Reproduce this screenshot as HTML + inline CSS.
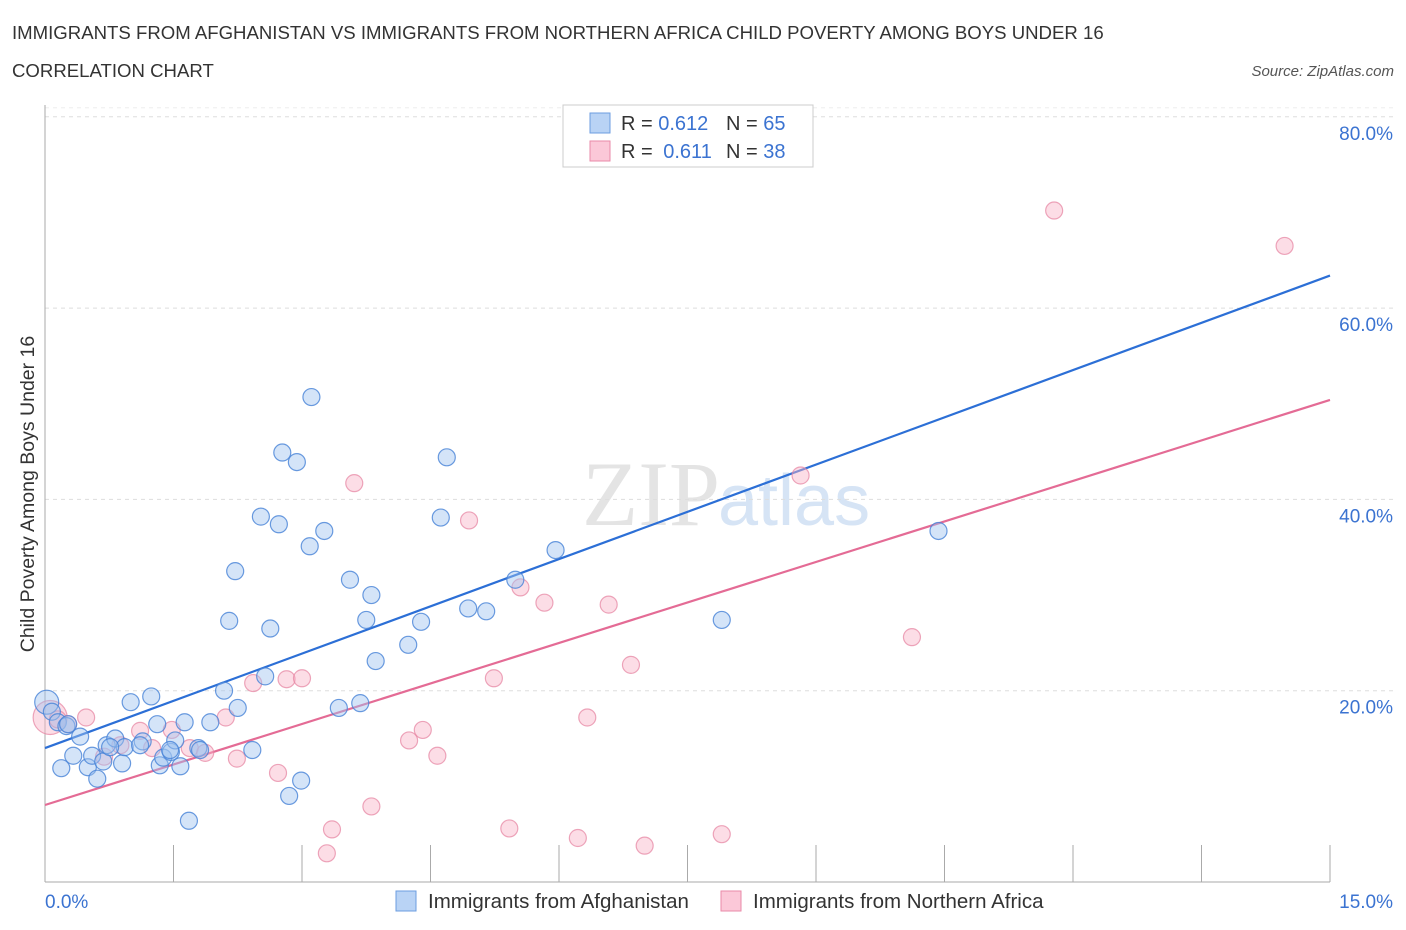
<!DOCTYPE html>
<html><head><meta charset="utf-8"><style>
body{margin:0;background:#fff;font-family:"Liberation Sans",sans-serif;}
</style></head><body>
<svg id="chart" width="1406" height="930" xmlns="http://www.w3.org/2000/svg" style="display:block">
<text x="12" y="39" font-size="18.6" fill="#333">IMMIGRANTS FROM AFGHANISTAN VS IMMIGRANTS FROM NORTHERN AFRICA CHILD POVERTY AMONG BOYS UNDER 16</text>
<text x="12" y="77" font-size="18.6" fill="#333">CORRELATION CHART</text>
<text x="1394" y="76" font-size="15" fill="#555" text-anchor="end" font-style="italic">Source: ZipAtlas.com</text>
<text x="720" y="525" font-size="92" fill="#e4e4e4" text-anchor="end" font-family="Liberation Serif">ZIP</text>
<text x="718" y="525" font-size="72" fill="#d6e4f5">atlas</text>
<g id="grid"></g>
<g id="trend"></g>
<g id="points"></g>
<text transform="translate(34,494) rotate(-90)" font-size="19.5" fill="#333" text-anchor="middle">Child Poverty Among Boys Under 16</text>
<text x="45" y="908" font-size="19" fill="#3b73d1">0.0%</text>
<text x="1393" y="908" font-size="19" fill="#3b73d1" text-anchor="end">15.0%</text>
<g>
<rect x="563" y="105" width="250" height="62" fill="#fff" stroke="#ccc"/>
<rect x="590" y="113" width="20" height="20" fill="#b9d3f5" stroke="#6c9ee0"/>
<rect x="590" y="141" width="20" height="20" fill="#fbc8d8" stroke="#e98aa8"/>
<text x="621" y="130" font-size="20" fill="#333">R = <tspan fill="#3b73d1">0.612</tspan><tspan x="726">N = </tspan><tspan fill="#3b73d1">65</tspan></text>
<text x="621" y="158" font-size="20" fill="#333">R = <tspan fill="#3b73d1" dx="5">0.611</tspan><tspan x="726">N = </tspan><tspan fill="#3b73d1">38</tspan></text>
</g>
<g>
<rect x="396" y="891" width="20" height="20" fill="#b9d3f5" stroke="#6c9ee0"/>
<text x="428" y="908" font-size="20.5" fill="#333">Immigrants from Afghanistan</text>
<rect x="721" y="891" width="20" height="20" fill="#fbc8d8" stroke="#e98aa8"/>
<text x="753" y="908" font-size="20.5" fill="#333">Immigrants from Northern Africa</text>
</g>
</svg>
<script>
const yTicks=[20,40,60,80];
const yTickLabels=["20.0%","40.0%","60.0%","80.0%"];
const xTicks=[0,1.5,3,4.5,6,7.5,9,10.5,12,13.5,15];
const blueX=[0.02,0.08,0.15,0.25,0.41,0.19,0.33,0.5,0.61,0.55,0.68,0.72,0.82,0.9,0.93,1.0,1.14,1.24,1.31,1.34,1.38,1.47,1.52,1.58,1.63,1.68,1.79,1.93,2.09,2.25,2.15,2.22,2.42,2.52,2.57,2.63,2.73,2.77,2.85,2.94,2.99,3.09,3.11,3.26,3.43,3.56,3.68,3.75,3.81,3.86,4.24,4.39,4.62,4.69,4.94,5.15,5.49,5.96,7.9,10.43,1.11,0.27,0.76,1.81,1.46];
const blueY=[18.8,17.8,16.7,16.3,15.2,11.9,13.2,12.0,10.8,13.2,12.6,14.3,15.0,12.4,14.1,18.8,14.7,19.4,16.5,12.2,13.0,13.6,14.8,12.1,16.7,6.4,14.0,16.7,20.0,18.2,27.3,32.5,13.8,38.2,21.5,26.5,37.4,44.9,9.0,43.9,10.6,35.1,50.7,36.7,18.2,31.6,18.7,27.4,30.0,23.1,24.8,27.2,38.1,44.4,28.6,28.3,31.6,34.7,27.4,36.7,14.3,16.5,14.1,13.8,13.8];
const pinkX=[0.06,0.15,0.27,0.48,0.69,0.88,1.11,1.25,1.48,1.69,1.87,2.11,2.24,2.43,2.72,2.82,3.0,3.35,3.29,3.61,3.81,4.25,4.41,4.58,4.95,5.24,5.42,5.55,5.83,6.22,6.33,6.58,6.84,7.0,7.9,8.82,10.12,11.78,14.47];
const pinkY=[17.2,17.0,16.5,17.2,13.1,14.3,15.8,14.0,15.9,14.0,13.5,17.2,12.9,20.8,11.4,21.2,21.3,5.5,3.0,41.7,7.9,14.8,15.9,13.2,37.8,21.3,5.6,30.8,29.2,4.6,17.2,29.0,22.7,3.8,5.0,42.5,25.6,70.2,66.5];
const trendBlue=[14.0,63.4];
const trendPink=[8.05,50.4];
const NS="http://www.w3.org/2000/svg";
const X=v=>45+v/15*1285, Y=v=>882-v/20*191.3;
function mk(t,a,p){const e=document.createElementNS(NS,t);for(const k in a)e.setAttribute(k,a[k]);p.appendChild(e);return e;}
const gridG=document.getElementById('grid');
yTicks.forEach((v,i)=>{
 const l=mk('line',{x1:45,x2:1394,y1:Y(v),y2:Y(v),stroke:'#ddd','stroke-dasharray':'4,4'},gridG);
 
 
 const t=mk('text',{x:1393,y:Y(v)+23,'font-size':19,fill:'#3b73d1','text-anchor':'end'},gridG);
 t.textContent=yTickLabels[i];
 
 
});
const topLine=mk('line',{x1:45,x2:1394,y1:Y(80)-9,y2:Y(80)-9,stroke:'#eee','stroke-dasharray':'4,4'},gridG);


const ax=mk('line',{x1:45,x2:45,y1:105,y2:882,stroke:'#aaa'},gridG);


const bx=mk('line',{x1:45,x2:1330,y1:882,y2:882,stroke:'#aaa'},gridG);


xTicks.forEach(v=>{
 const l=mk('line',{x1:X(v),x2:X(v),y1:845,y2:882,stroke:'#aaa'},gridG);
 
 
});
const tr=document.getElementById('trend');
const tb=mk('line',{x1:X(0),y1:Y(trendBlue[0]),x2:X(15),y2:Y(trendBlue[1]),stroke:'#2c6fd6','stroke-width':2.2},tr);


const tp=mk('line',{x1:X(0),y1:Y(trendPink[0]),x2:X(15),y2:Y(trendPink[1]),stroke:'#e46b95','stroke-width':2.2},tr);


const pg=document.getElementById('points');
pinkX.forEach((v,i)=>{
 const c=mk('circle',{cx:X(v),cy:Y(pinkY[i]),r:i==0?17:8.5,fill:'rgba(248,180,200,0.45)',stroke:'rgba(230,130,160,0.7)','stroke-width':1.2},pg);
 
 
});
blueX.forEach((v,i)=>{
 const c=mk('circle',{cx:X(v),cy:Y(blueY[i]),r:i==0?12:8.5,fill:'rgba(160,195,240,0.45)',stroke:'rgba(70,130,215,0.8)','stroke-width':1.2},pg);
 
 
});
</script>
</body></html>
